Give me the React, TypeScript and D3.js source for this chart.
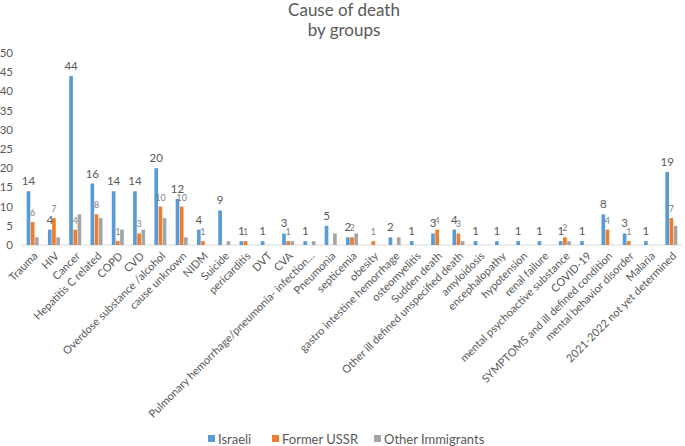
import React from "react";
import * as d3 from "d3";

const categories = [
  "Trauma", "HIV", "Cancer", "Hepatitis C related", "COPD", "CVD",
  "Overdose substance /alcohol", "cause unknown", "NIDM", "Suicide",
  "pericarditis", "DVT", "CVA", "Pulmonary hemorrhage/pneumonia- infection…",
  "Pneumonia", "septicemia", "obesity", "gastro intestine hemorrhage",
  "osteomyelitis", "Sudden death", "Other ill defined unspecified death",
  "amyloidosis", "encephalopathy", "hypotension", "renal failure",
  "mental psychoactive substance", "COVID-19", "SYMPTOMS and ill defined condition",
  "mental behavior disorder", "Malaria", "2021-2022 not yet determined",
];
const israeli = [14, 4, 44, 16, 14, 14, 20, 12, 4, 9, 1, 1, 3, 1, 5, 2, 0, 2, 1, 3, 4, 1, 1, 1, 1, 1, 1, 8, 3, 1, 19];
const formerUSSR = [6, 7, 4, 8, 1, 3, 10, 10, 1, 0, 1, 0, 1, 0, 0, 2, 1, 0, 0, 4, 3, 0, 0, 0, 0, 2, 0, 4, 1, 0, 7];
const otherImmigrants = [2, 2, 8, 7, 4, 4, 7, 2, 0, 1, 0, 0, 1, 1, 3, 3, 0, 2, 0, 0, 1, 0, 0, 0, 0, 1, 0, 0, 0, 0, 5];
const seriesNames = ["Israeli", "Former USSR", "Other Immigrants"];
const colors = ["#5B9BD5", "#ED7D31", "#A5A5A5"];
const yTicks = [0, 5, 10, 15, 20, 25, 30, 35, 40, 45, 50];

const W = 685, H = 446;
const FONT = "Lato, 'Open Sans', sans-serif";

export default function App() {
  const x = d3.scaleBand<string>().domain(categories).range([22, 682]);
  const y = d3.scaleLinear().domain([0, 50]).range([245, 53]);
  const sub = d3.scaleBand<number>().domain([0, 1, 2]).range([-6, 6]).paddingInner(0.12);
  const series = [israeli, formerUSSR, otherImmigrants];
  const legendX = [208, 272, 374];

  return (
    <svg width={W} height={H} style={{ position: "absolute", left: 0, top: 0, background: "#fff" }} fontFamily={FONT}>
      <rect width={W} height={H} fill="#fff" />
      <text x={344} y={16} textAnchor="middle" fontSize={17} fill="#595959">Cause of death</text>
      <text x={344} y={36} textAnchor="middle" fontSize={17} fill="#595959">by groups</text>

      {yTicks.map((t) => (
        <text key={t} x={13} y={y(t)} dy="0.35em" textAnchor="end" fontSize={11.5} fill="#595959">{t}</text>
      ))}

      <line x1={22} x2={682} y1={y(0)} y2={y(0)} stroke="#d9d9d9" strokeWidth={1} />

      {series.map((vals, si) =>
        vals.map((v, i) => {
          if (v <= 0) return null;
          const cx = x(categories[i])! + x.bandwidth() / 2;
          const bx = cx + sub(si)!;
          return (
            <rect key={`${si}-${i}`} x={bx} y={y(v)} width={sub.bandwidth()} height={y(0) - y(v)} fill={colors[si]} />
          );
        })
      )}

      {israeli.map((v, i) => {
        if (v <= 0) return null;
        const cx = x(categories[i])! + x.bandwidth() / 2 + sub(0)! + sub.bandwidth() / 2;
        return <text key={`l0-${i}`} x={cx} y={y(v) - 6} textAnchor="middle" fontSize={11.5} fill="#595959">{v}</text>;
      })}
      {formerUSSR.map((v, i) => {
        if (v <= 0) return null;
        const cx = x(categories[i])! + x.bandwidth() / 2 + sub(1)! + sub.bandwidth() / 2;
        return <text key={`l1-${i}`} x={cx} y={y(v) - 6} textAnchor="middle" fontSize={9} fill="#7f7f7f">{v}</text>;
      })}

      {categories.map((c) => {
        const cx = x(c)! + x.bandwidth() / 2;
        return (
          <text key={c} transform={`translate(${cx + 3},${254}) rotate(-45)`} textAnchor="end" dy="0.35em" fontSize={11} fill="#595959">{c}</text>
        );
      })}

      {seriesNames.map((n, i) => (
        <g key={n}>
          <rect x={legendX[i]} y={435} width={7} height={7} fill={colors[i]} />
          <text x={legendX[i] + 10} y={439} dy="0.35em" fontSize={13} fill="#595959">{n}</text>
        </g>
      ))}
    </svg>
  );
}
